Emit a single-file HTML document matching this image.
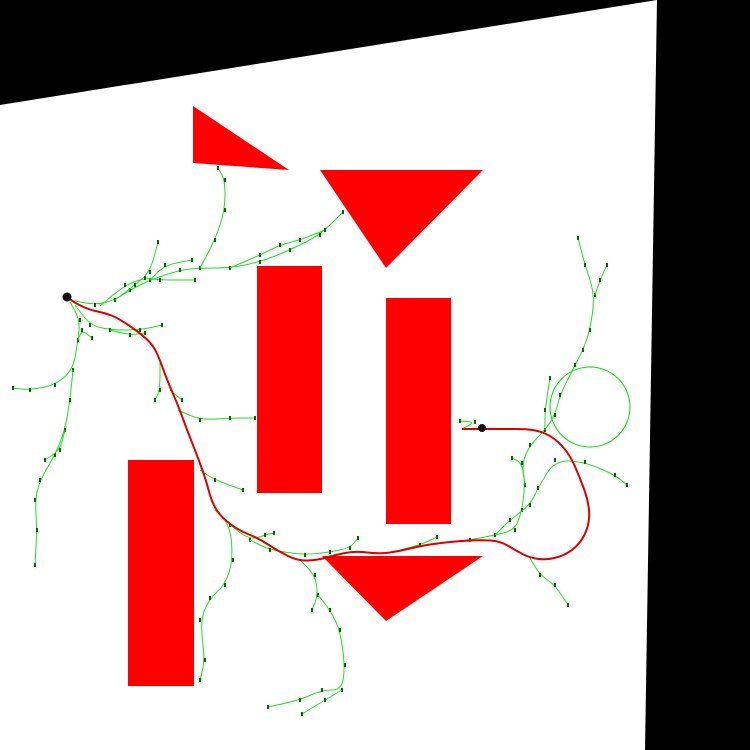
<!DOCTYPE html>
<html><head><meta charset="utf-8"><style>html,body{margin:0;padding:0;background:#000}svg{display:block}</style></head>
<body>
<svg id="c" width="750" height="750" xmlns="http://www.w3.org/2000/svg">
<rect x="0" y="0" width="750" height="750" fill="#000"/>
<polygon points="0,105 657,0 645,750 0,750" fill="#fff"/>
<g id="obs" fill="#ff0000">
<polygon points="193,106 193,163 289,170"/>
<polygon points="320,170 483,170 386,268"/>
<rect x="257" y="266" width="65" height="227"/>
<rect x="386" y="298" width="65" height="226"/>
<rect x="128" y="460" width="66" height="226"/>
<polygon points="322,556 483,556 386,621"/>
</g>
<g id="tree"></g>
<circle cx="590" cy="407" r="40" fill="none" stroke="#00dd00" stroke-width="1"/>
<g id="path"></g>
<circle cx="67" cy="297" r="4.5" fill="#111"/>
<circle cx="482" cy="428" r="4" fill="#111"/>
</svg>
<script>
const branches = [
 [[70,300],[95,305],[115,300],[130,290],[150,280],[180,270],[200,268],[230,268],[260,262],[290,250],[320,235],[343,212]],
 [[115,300],[135,285],[150,272],[158,242]],
 [[150,280],[165,265],[192,260]],
 [[200,268],[215,240],[225,210],[225,180],[218,168]],
 [[230,268],[260,255],[280,245],[300,240],[325,230]],
 [[100,306],[125,285],[145,278],[160,280],[195,280]],
 [[70,302],[80,320],[78,340],[73,370],[55,385],[30,390],[13,388]],
 [[78,340],[82,330],[92,338]],
 [[73,370],[70,400],[65,430],[55,455],[40,480],[35,500],[37,530],[35,565]],
 [[65,430],[60,450],[45,460]],
 [[75,305],[90,325],[110,330],[140,330],[162,325]],
 [[110,330],[130,335],[145,333]],
 [[160,360],[160,390],[155,400]],
 [[170,390],[182,400]],
 [[178,410],[200,420],[230,418],[255,418]],
 [[200,470],[215,480],[243,490]],
 [[215,510],[230,525],[233,560],[225,585],[210,598],[200,620],[205,660],[200,680]],
 [[230,525],[250,540],[265,535],[274,533]],
 [[250,540],[270,550],[305,555],[330,552],[350,548],[358,538]],
 [[300,560],[315,575],[318,595],[312,610]],
 [[318,595],[330,610],[340,630],[345,665],[342,690],[322,690],[300,700],[268,707]],
 [[342,690],[325,700],[302,714]],
 [[400,550],[420,545],[437,537]],
 [[440,543],[470,540],[495,535],[515,530],[522,510],[525,485],[522,463],[512,458]],
 [[495,535],[510,520],[530,505],[538,488],[555,460],[585,462],[615,475],[627,485]],
 [[525,485],[522,463],[530,445],[545,430],[555,415],[560,395],[575,365],[583,350],[590,330],[595,295],[585,265],[578,238]],
 [[545,430],[545,410],[550,378]],
 [[595,295],[600,280],[607,265]],
 [[462,429],[475,422],[460,421]],
 [[530,558],[540,575],[555,585],[568,605]]
];
const pathPts = [[67,297],[75,303],[90,310],[105,313],[118,318],[140,333],[153,345],[160,360],[167,380],[178,405],[187,430],[197,455],[206,480],[212,503],[222,518],[240,531],[258,538],[278,551],[298,561],[318,560],[335,555],[355,551],[380,554],[400,551],[420,546],[440,543],[460,541],[480,540],[500,541],[515,550],[530,558],[548,560],[568,554],[583,540],[590,520],[588,500],[580,478],[570,455],[555,438],[535,429],[500,429],[480,429],[462,429]];
const NS='http://www.w3.org/2000/svg';
function smooth(p){let d='M'+p[0][0]+','+p[0][1];for(let i=1;i<p.length;i++){const a=p[i-1],b=p[i];const mx=(a[0]+b[0])/2,my=(a[1]+b[1])/2;d+=' Q'+a[0]+','+a[1]+' '+mx+','+my;}const l=p[p.length-1];d+=' L'+l[0]+','+l[1];return d;}
const tree=document.getElementById('tree');
branches.forEach((b,i)=>{
 const pa=document.createElementNS(NS,'path');
 pa.setAttribute('d',smooth(b));pa.setAttribute('fill','none');pa.setAttribute('stroke','#22dd22');pa.setAttribute('stroke-width','1');
 
 
 tree.appendChild(pa);
 b.forEach((q,j)=>{if(j===0)return;
  const r=document.createElementNS(NS,'rect');
  r.setAttribute('x',q[0]-1);r.setAttribute('y',q[1]-2);r.setAttribute('width',2);r.setAttribute('height',4);r.setAttribute('fill','#006600');
  
  
  tree.appendChild(r);});
});
const pg=document.getElementById('path');
const rp=document.createElementNS(NS,'path');
rp.setAttribute('d',smooth(pathPts));rp.setAttribute('fill','none');rp.setAttribute('stroke','#dd0000');rp.setAttribute('stroke-width','2');


pg.appendChild(rp);
</script>
</body></html>
